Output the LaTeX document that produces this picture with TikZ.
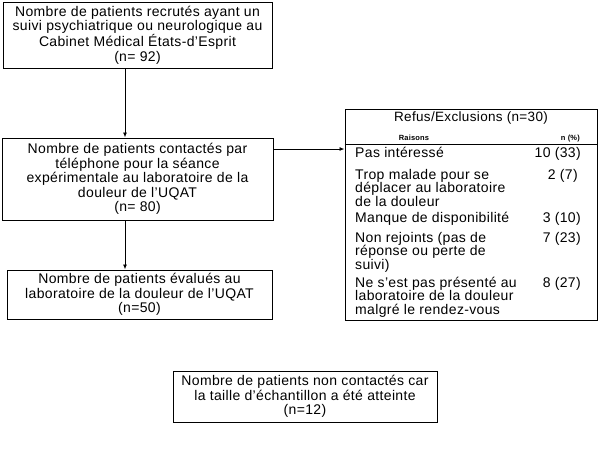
\documentclass[tikz,border=0pt]{standalone}
\usepackage{fontspec}
\setmainfont{Liberation Sans}[LetterSpace=2.5]
\usetikzlibrary{arrows.meta}
\begin{document}
\begin{tikzpicture}[x=1pt,y=-1pt,
  box/.style={draw, line width=1pt, align=center, inner sep=0pt, font=\fontsize{14}{14.5}\selectfont},
  frame/.style={draw, line width=1pt, inner sep=0pt},
  cell/.style={anchor=base west, align=left, inner sep=0pt, font=\fontsize{14}{13.5}\selectfont},
  num/.style={anchor=base east, inner sep=0pt, font=\fontsize{14}{13.5}\selectfont},
  head/.style={anchor=base, inner sep=0pt, font=\fontsize{13.5}{13.5}\selectfont},
  small/.style={inner sep=0pt, font=\fontsize{7.5}{7.5}\selectfont\bfseries},
  link/.style={line width=0.9pt, -{Latex[length=5pt,width=4pt]}}]
\useasboundingbox (0,0) rectangle (612,453);

\node[box, minimum width=269pt, minimum height=66pt] (b1) at (137.5,35)
  {Nombre de patients recrutés ayant un\\suivi psychiatrique ou neurologique au\\Cabinet Médical États-d'Esprit\\(n= 92)};
\node[box, minimum width=271pt, minimum height=82pt] (b2) at (137.5,179)
  {Nombre de patients contactés par\\téléphone pour la séance\\expérimentale au laboratoire de la\\douleur de l'UQAT\\(n= 80)};
\node[box, minimum width=265pt, minimum height=49pt] (b3) at (139.5,294.5)
  {Nombre de patients évalués au\\laboratoire de la douleur de l'UQAT\\(n=50)};
\node[box, minimum width=264pt, minimum height=51pt] (b4) at (305,396.5)
  {Nombre de patients non contactés car\\la taille d'échantillon a été atteinte\\(n=12)};

% table
\node[frame, minimum width=252pt, minimum height=211pt] (tab) at (471,214.5) {};
\coordinate (hl) at (0,144);
\draw[line width=1pt] (tab.west |- hl) -- (tab.east |- hl);
\node[head] (th) at (471,121) {Refus/Exclusions (n=30)};
\node[small, anchor=base] (tr) at (414,140) {Raisons};
\node[small, anchor=base east] (tn) at (580,140) {n (\%)};

% multi-line cells: base anchor is the baseline of the last line
\node[cell] (r1) at (355,157) {Pas intéressé};
\node[num] (n1) at (581,157) {10 (33)};
\node[cell] (r2) at (355,206) {Trop malade pour se\\déplacer au laboratoire\\de la douleur};
\node[num] (n2) at (578,179) {2 (7)};
\node[cell] (r3) at (355,222) {Manque de disponibilité};
\node[num] (n3) at (581,222) {3 (10)};
\node[cell] (r4) at (355,269) {Non rejoints (pas de\\réponse ou perte de\\suivi)};
\node[num] (n4) at (581,242) {7 (23)};
\node[cell] (r5) at (355,314) {Ne s'est pas présenté au\\laboratoire de la douleur\\malgré le rendez-vous};
\node[num] (n5) at (581,287) {8 (27)};

% connectors
\coordinate (ax) at (125,0);
\coordinate (hy) at (0,149);
\draw[link] (b1.south -| ax) -- (b2.north -| ax);
\draw[link] (b2.south -| ax) -- (b3.north -| ax);
\draw[link] (b2.east |- hy) -- (tab.west |- hy);
\end{tikzpicture}
\end{document}
